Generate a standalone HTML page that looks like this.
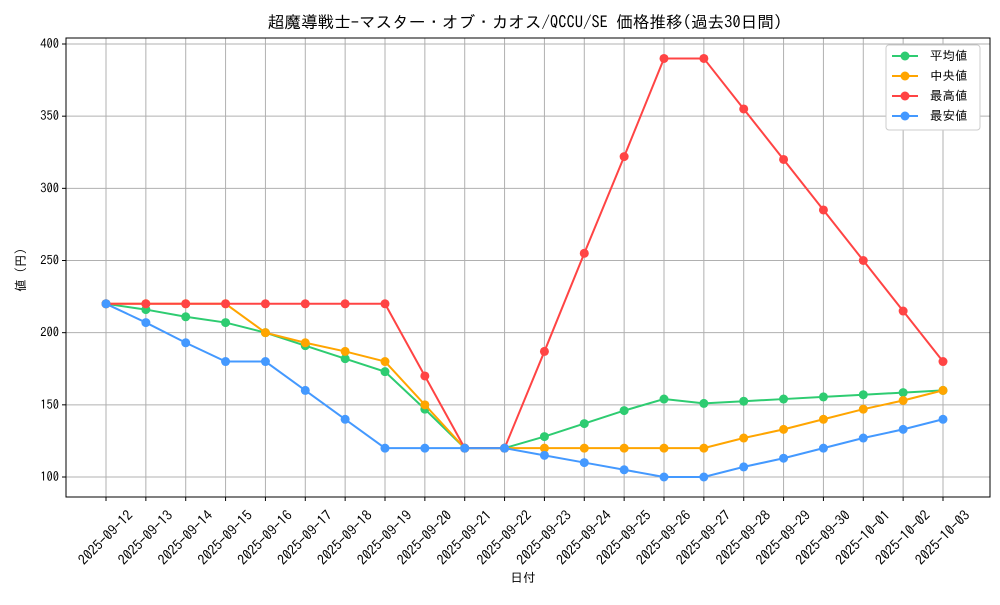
<!DOCTYPE html>
<html><head><meta charset="utf-8"><style>
body{margin:0;background:#fff;}
text{font-family:"IPAGothic","Liberation Sans","Noto Sans CJK JP",sans-serif;fill:#000;}
</style></head><body>
<svg width="1000" height="600" xmlns="http://www.w3.org/2000/svg">
<rect width="1000" height="600" fill="#fff"/>
<text x="525" y="28" font-size="16.6" text-anchor="middle">超魔導戦士-マスター・オブ・カオス/QCCU/SE 価格推移(過去30日間)</text>
<g id="grid" stroke="#b0b0b0" stroke-width="1"></g>
<rect x="66" y="38" width="924" height="459" fill="none" stroke="#000" stroke-width="1"/>
<g id="yt" font-size="12.5"></g>
<g id="xt" font-size="14"></g>
<text x="523" y="582" font-size="12.5" text-anchor="middle">日付</text>
<text transform="translate(25,270) rotate(-90)" font-size="12.5" text-anchor="middle">値 (円)</text>
<g id="series"></g>
<g>
<rect x="886" y="45" width="94" height="85" fill="#fff" stroke="#ccc" rx="3"/>
<line x1="892" y1="56" x2="918" y2="56" stroke="#2ecc71" stroke-width="2"/><circle cx="905" cy="56" r="4.5" fill="#2ecc71"/><text x="930" y="60" font-size="12.5">平均値</text>
<line x1="892" y1="76" x2="918" y2="76" stroke="#ffa500" stroke-width="2"/><circle cx="905" cy="76" r="4.5" fill="#ffa500"/><text x="930" y="80" font-size="12.5"> 中央値</text>
<line x1="892" y1="96" x2="918" y2="96" stroke="#ff4444" stroke-width="2"/><circle cx="905" cy="96" r="4.5" fill="#ff4444"/><text x="930" y="100" font-size="12.5">最高値</text>
<line x1="892" y1="116" x2="918" y2="116" stroke="#4499ff" stroke-width="2"/><circle cx="905" cy="116" r="4.5" fill="#4499ff"/><text x="930" y="120" font-size="12.5">最安値</text>
</g>
</svg>
<script>
const ns="http://www.w3.org/2000/svg";
const X=i=>106+i*39.857, Y=v=>477-(v-100)*1.4433;
function el(t,a,p,txt){const e=document.createElementNS(ns,t);for(const k in a)e.setAttribute(k,a[k]);if(txt!==undefined)e.textContent=txt;document.getElementById(p).appendChild(e);return e;}
const dates=[];for(let i=12;i<=30;i++)dates.push("2025-09-"+i);["01","02","03"].forEach(d=>dates.push("2025-10-"+d));
dates.forEach((d,i)=>{el("line",{x1:X(i),x2:X(i),y1:38,y2:497},"grid");el("line",{x1:X(i),x2:X(i),y1:497,y2:501,stroke:"#000"},"xt");
el("text",{transform:`translate(${X(i)+3},${541}) rotate(-45)`,"text-anchor":"middle","font-size":14},"xt",d);});
for(let v=100;v<=400;v+=50){el("line",{x1:66,x2:990,y1:Y(v),y2:Y(v)},"grid");el("line",{x1:62,x2:66,y1:Y(v),y2:Y(v),stroke:"#000"},"yt");el("text",{x:59,y:Y(v)+4,"text-anchor":"end"},"yt",v);}
const S=[
["#2ecc71",[220,216,211,207,200,191,182,173,147,120,120,128,137,146,154,151,152.5,154,155.5,157,158.5,160]],
["#ffa500",[220,220,220,220,200,193,187,180,150,120,120,120,120,120,120,120,127,133,140,147,153,160]],
["#ff4444",[220,220,220,220,220,220,220,220,170,120,120,187,255,322,390,390,355,320,285,250,215,180]],
["#4499ff",[220,207,193,180,180,160,140,120,120,120,120,115,110,105,100,100,107,113,120,127,133,140]]];
S.forEach(([c,d])=>{el("polyline",{points:d.map((v,i)=>X(i)+","+Y(v)).join(" "),fill:"none",stroke:c,"stroke-width":2},"series");
d.forEach((v,i)=>el("circle",{cx:X(i),cy:Y(v),r:4.5,fill:c},"series"));});
</script>
</body></html>
